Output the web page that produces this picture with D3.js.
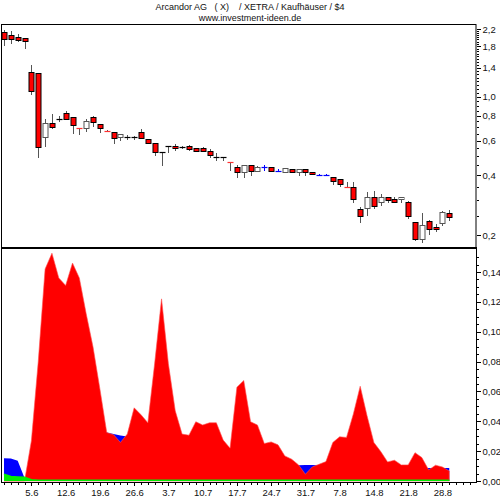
<!doctype html>
<html>
<head>
<meta charset="utf-8" />
<script src="https://cdn.jsdelivr.net/npm/d3@7"></script>
<style>
  body{ margin:0; background:#fff; }
  svg{ display:block; font-family:"Liberation Sans", Arial, sans-serif; }
  .lbl{ font-size:9.5px; fill:#111; }
  .ttl{ font-size:9px; fill:#111; }
  .axis path, .axis line{ stroke:#000; shape-rendering:crispEdges; }
</style>
</head>
<body>
<div id="chart"></div>
<script>
// --- data: Arcandor daily candles, June - August 2009 ---
var opens  = [2.118,2.05,2.004,1.99,1.34,1.32,0.624,0.734,0.773,0.825,0.793,0.695,0.693,0.793,0.726,0.676,0.666,0.624,0.627,0.623,
              0.666,0.611,0.582,0.523,0.563,0.566,0.558,0.564,0.553,0.553,0.534,0.497,0.493,0.467,0.443,0.415,0.452,0.421,0.443,0.443,
              0.421,0.415,0.431,0.415,0.431,0.415,0.402,0.402,0.392,0.383,0.352,0.351,0.270,0.273,0.312,0.293,0.312,0.303,0.303,0.293,
              0.233,0.192,0.235,0.220,0.229,0.259];
var highs  = [2.175,2.15,2.07,1.99,1.45,1.32,0.769,0.815,0.799,0.85,0.793,0.695,0.769,0.802,0.73,0.678,0.666,0.646,0.641,0.636,
              0.685,0.611,0.586,0.525,0.565,0.575,0.566,0.570,0.553,0.559,0.542,0.518,0.495,0.467,0.452,0.452,0.452,0.448,0.452,0.443,
              0.43,0.435,0.431,0.431,0.431,0.417,0.405,0.405,0.394,0.383,0.369,0.369,0.278,0.329,0.335,0.321,0.312,0.310,0.312,0.298,
              0.233,0.257,0.237,0.227,0.265,0.268];
var lows   = [1.81,1.848,1.90,1.74,1.02,0.49,0.559,0.687,0.748,0.763,0.648,0.641,0.661,0.70,0.658,0.668,0.577,0.60,0.604,0.607,
              0.621,0.579,0.502,0.448,0.521,0.532,0.542,0.532,0.524,0.534,0.492,0.475,0.475,0.421,0.387,0.387,0.397,0.415,0.421,0.418,
              0.415,0.412,0.415,0.399,0.397,0.405,0.399,0.399,0.359,0.348,0.351,0.291,0.231,0.250,0.270,0.281,0.289,0.289,0.289,0.241,
              0.187,0.182,0.200,0.208,0.223,0.235];
var closes = [1.958,1.958,1.93,1.92,1.07,0.555,0.734,0.706,0.776,0.775,0.72,0.692,0.754,0.748,0.693,0.673,0.621,0.646,0.629,0.625,
              0.621,0.582,0.524,0.525,0.565,0.549,0.560,0.544,0.534,0.534,0.508,0.499,0.495,0.465,0.415,0.452,0.421,0.443,0.443,0.423,
              0.421,0.435,0.415,0.431,0.415,0.405,0.402,0.402,0.374,0.362,0.350,0.303,0.250,0.312,0.281,0.312,0.301,0.293,0.312,0.250,
              0.190,0.225,0.214,0.214,0.260,0.247];

// --- indicator panel series ---
var redSeries   = [0,0,0,0,0.027,0.08,0.142,0.1526,0.136,0.131,0.146,0.136,0.112,0.0897,0.0617,0.0325,0.031,0.0258,0.0314,0.049,
                   0.0444,0.039,0.079,0.122,0.0785,0.047,0.0314,0.0307,0.0397,0.0375,0.039,0.039,0.0274,0.022,0.0628,0.0673,0.0397,0.0375,0.0251,0.0262,
                   0.0242,0.0168,0.0146,0.0108,0.0045,0.0094,0.0112,0.013,0.0258,0.0296,0.0292,0.0449,0.0635,0.0437,0.0258,0.0197,0.0128,0.0139,0.0108,0.0108,
                   0.019,0.0157,0.0074,0.0106,0.0094,0.0067];
var blueSeries  = [0.0153,0.015,0.0135,0.002,0.008,0.015,0.025,0.035,0.04,0.045,0.05,0.05,0.05,0.045,0.035,0.0325,0.0315,0.0305,0.0298,0.03,
                   0.028,0.027,0.027,0.027,0.026,0.025,0.024,0.023,0.022,0.021,0.02,0.019,0.018,0.017,0.016,0.016,0.015,0.015,0.014,0.014,
                   0.013,0.012,0.011,0.0105,0.0108,0.0108,0.0106,0.01,0.01,0.01,0.01,0.01,0.01,0.01,0.01,0.01,0.0095,0.0095,0.009,0.009,
                   0.009,0.0085,0.0087,0.0087,0.0087,0.0087];
var greenSeries = [0.0045,0.003,0.0027,0.0025,0.0008,0.0005,0.0005,0.0005,0.0005,0.0005,0.0005,0.0005,0.0005,0.0005,0.0005,0.0005,0.0005,0.0005,0.0005,0.0005,
                   0.0005,0.0005,0.0005,0.0005,0.0005,0.0005,0.0005,0.0005,0.0005,0.0005,0.0005,0.0005,0.0005,0.0005,0.0005,0.0005,0.0005,0.0005,0.0005,0.0005,
                   0.0005,0.0005,0.0005,0.0005,0.0005,0.0005,0.0005,0.0005,0.0005,0.0005,0.0005,0.0005,0.0005,0.0005,0.0005,0.0005,0.0005,0.0005,0.0005,0.0005,
                   0.0005,0.0005,0.0005,0.0005,0.0005,0.0005];

var priceLabels = [0.2, 0.4, 0.6, 0.8, 1.0, 1.4, 1.8, 2.2];
var indLabels   = [0, 0.02, 0.04, 0.06, 0.08, 0.10, 0.12, 0.14];
var titleText   = "Arcandor AG   ( X)    / XETRA / Kaufhäuser / $4";
var subText     = "www.investment-ideen.de";

// trading days (XETRA) June 1 - Aug 31 2009
var days = d3.timeDay.range(new Date(2009,5,1), new Date(2009,8,1))
  .filter(function(d){ return d.getDay() != 0 && d.getDay() != 6; });

var candles = days.map(function(d, i){
  return {date: d, i: i, o: opens[i], h: highs[i], l: lows[i], c: closes[i]};
});

var W = 500, H = 500;
var left = 1, right = 476;
var topY0 = 24, topY1 = 247, botY0 = 248, botY1 = 482.5;

var svg = d3.select("#chart").append("svg").attr("width", W).attr("height", H);

svg.append("text").attr("class","ttl").attr("x",250).attr("y",10)
  .attr("text-anchor","middle").style("white-space","pre").attr("xml:space","preserve").text(titleText);
svg.append("text").attr("class","ttl").attr("x",250).attr("y",21)
  .attr("text-anchor","middle").text(subText);

var x = d3.scaleLinear().domain([0, 65]).range([4, 449.25]);
var yP = d3.scaleLog().domain([0.2, 2.2]).range([235, 29]);
var yI = d3.scaleLinear().domain([0, 0.14]).range([481, 272]);

// ---------- top panel ----------
svg.append("rect").attr("x", left + 0.5).attr("y", topY0 + 0.5)
  .attr("width", right - left - 0.5).attr("height", topY1 - topY0)
  .attr("fill","none").attr("stroke","#000");

var g = svg.append("g");
var bw = 5;
candles.forEach(function(d){
  var cx = Math.round(x(d.i)) + 0.5;
  var yo = yP(d.o), yc = yP(d.c);
  var small = Math.abs(yo - yc) < 1.5;
  var col = d.c > d.o ? "#000" : (d.c < d.o ? "#ff3030" : "#0000ff");
  var wickCol = small && d.c == d.o ? "#0000ff" : "#555";
  g.append("line").attr("x1",cx).attr("x2",cx)
    .attr("y1",Math.round(yP(d.h))).attr("y2",Math.round(yP(d.l)))
    .attr("stroke",wickCol).attr("stroke-width",1);
  if(small){
    var ym = Math.round((yo + yc)/2) + 0.5;
    g.append("line").attr("x1",cx-3).attr("x2",cx+3).attr("y1",ym).attr("y2",ym)
      .attr("stroke",col).attr("stroke-width",1.2);
  }else{
    var top = Math.round(Math.min(yo,yc)) + 0.5;
    var bot = Math.round(Math.max(yo,yc)) + 0.5;
    g.append("rect").attr("x",cx-bw/2).attr("y",top).attr("width",bw).attr("height",bot-top)
      .attr("fill", d.c < d.o ? "#ff0000" : "#fff")
      .attr("stroke", d.c < d.o ? "#000" : "#555").attr("stroke-width",1);
  }
});

// log axis: minor ticks every 0.05
var minorP = d3.range(4, 45).map(function(k){ return k*0.05; });
svg.append("g").attr("class","axis").attr("transform","translate(" + (right+0.5) + ",0)")
  .call(d3.axisRight(yP).tickValues(minorP).tickSize(2).tickFormat(""))
  .call(function(s){ s.select(".domain").remove(); });
svg.append("g").attr("class","axis").attr("transform","translate(" + (right+0.5) + ",0)")
  .call(d3.axisRight(yP).tickValues(priceLabels).tickSize(4).tickPadding(2)
    .tickFormat(function(v){ return d3.format(".1f")(v).replace(".", ","); }))
  .call(function(s){
    s.select(".domain").remove();
    s.selectAll("text").attr("class","lbl").attr("fill",null);
  });

// ---------- bottom panel ----------
var area = function(vals){
  return d3.area().x(function(v,i){ return x(i); }).y0(yI(0)).y1(function(v){ return yI(v); })(vals);
};
svg.append("path").attr("d", area(blueSeries)).attr("fill","#0000ff");
svg.append("path").attr("d", area(redSeries)).attr("fill","#ff0000").attr("stroke","#ff5050").attr("stroke-width",0.6);
svg.append("path").attr("d", area(greenSeries)).attr("fill","#00ee00");
svg.append("path").attr("d", d3.line().x(function(v,i){ return x(i); }).y(function(v){ return yI(v); })(greenSeries))
  .attr("fill","none").attr("stroke","#00ee00").attr("stroke-width",1.5);

// frame lines
svg.append("line").attr("x1",left).attr("x2",right+1).attr("y1",botY0).attr("y2",botY0)
  .attr("stroke","#000").attr("stroke-width",2);
svg.append("line").attr("x1",left+0.5).attr("x2",left+0.5).attr("y1",botY0).attr("y2",botY1)
  .attr("stroke","#000");
svg.append("line").attr("x1",left).attr("x2",right+1).attr("y1",botY1).attr("y2",botY1)
  .attr("stroke","#000");
svg.append("line").attr("x1",right+0.5).attr("x2",right+0.5).attr("y1",botY0).attr("y2",botY1)
  .attr("stroke","#000");

var minorI = d3.range(0, 31).map(function(k){ return k*0.005; });
svg.append("g").attr("class","axis").attr("transform","translate(" + (right+0.5) + ",0)")
  .call(d3.axisRight(yI).tickValues(minorI).tickSize(2).tickFormat(""))
  .call(function(s){ s.select(".domain").remove(); });
svg.append("g").attr("class","axis").attr("transform","translate(" + (right+0.5) + ",0)")
  .call(d3.axisRight(yI).tickValues(indLabels).tickSize(4).tickPadding(2)
    .tickFormat(function(v){ return d3.format(".2f")(v).replace(".", ","); }))
  .call(function(s){
    s.select(".domain").remove();
    s.selectAll("text").attr("class","lbl").attr("fill",null);
  });

// date axis: one tick per trading day, labels on Fridays
var dayTicks = d3.range(0, 69);
var fridays = candles.filter(function(d){ return d.date.getDay() == 5; }).map(function(d){ return d.i; });
svg.append("g").attr("class","axis").attr("transform","translate(0," + botY1 + ")")
  .call(d3.axisBottom(x).tickValues(dayTicks).tickSize(2).tickFormat(""))
  .call(function(s){ s.select(".domain").remove(); });
svg.append("g").attr("class","axis").attr("transform","translate(0," + botY1 + ")")
  .call(d3.axisBottom(x).tickValues(fridays).tickSize(3).tickPadding(4)
    .tickFormat(function(i){ return d3.timeFormat("%-d.%-m")(days[i]); }))
  .call(function(s){
    s.select(".domain").remove();
    s.selectAll("text").attr("class","lbl").attr("fill",null);
  });
</script>
</body>
</html>
